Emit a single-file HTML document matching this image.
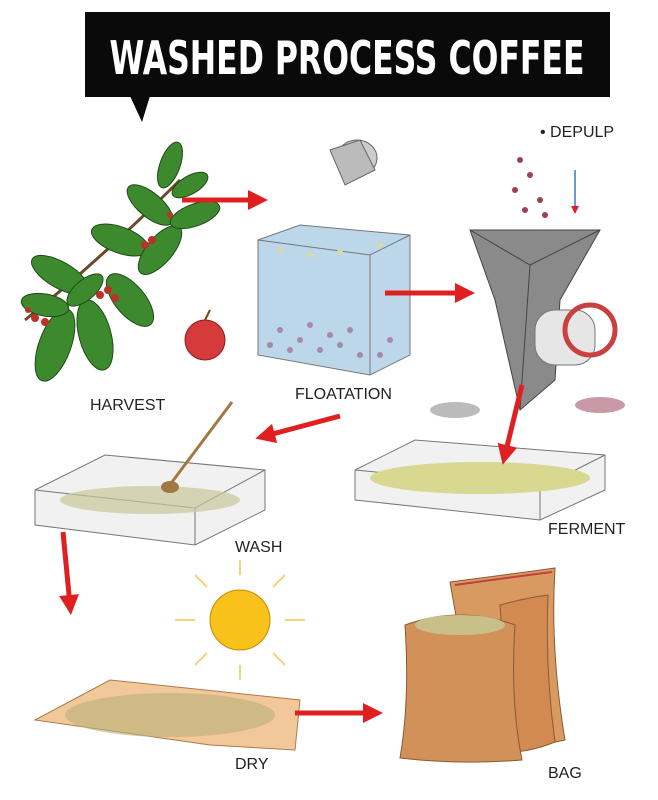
<!DOCTYPE html>
<html><head><style>
body{margin:0;background:#fff;}
svg{display:block}
text{font-family:"Liberation Sans",sans-serif;fill:#222}
</style></head><body>
<svg width="658" height="800" viewBox="0 0 658 800">
<defs>
<marker id="ah" markerWidth="4" markerHeight="4" refX="2" refY="2" orient="auto"><path d="M0,0 L4,2 L0,4z" fill="#e02020"/></marker>
</defs>
<rect x="85" y="12" width="525" height="85" fill="#0a0a0a"/>
<path d="M130,96 L150,96 L142,122z" fill="#0a0a0a"/>
<text x="347" y="74" text-anchor="middle" style="font-weight:bold;font-size:46px;fill:#fff;font-family:'DejaVu Sans Condensed','Liberation Sans Narrow',sans-serif" textLength="475" lengthAdjust="spacingAndGlyphs">WASHED PROCESS COFFEE</text>
<!-- harvest -->
<path d="M25,320 Q100,260 180,180" stroke="#6b4a2a" stroke-width="3" fill="none"/>
<g fill="#3d8a2e" stroke="#1f4a18" stroke-width="1">
<ellipse cx="55" cy="345" rx="16" ry="38" transform="rotate(20 55 345)"/>
<ellipse cx="95" cy="335" rx="16" ry="36" transform="rotate(-15 95 335)"/>
<ellipse cx="130" cy="300" rx="15" ry="32" transform="rotate(-40 130 300)"/>
<ellipse cx="60" cy="275" rx="13" ry="32" transform="rotate(-60 60 275)"/>
<ellipse cx="120" cy="240" rx="13" ry="30" transform="rotate(-70 120 240)"/>
<ellipse cx="160" cy="250" rx="13" ry="30" transform="rotate(40 160 250)"/>
<ellipse cx="150" cy="205" rx="12" ry="28" transform="rotate(-50 150 205)"/>
<ellipse cx="195" cy="215" rx="11" ry="26" transform="rotate(70 195 215)"/>
<ellipse cx="170" cy="165" rx="10" ry="24" transform="rotate(20 170 165)"/>
<ellipse cx="45" cy="305" rx="11" ry="24" transform="rotate(-80 45 305)"/>
<ellipse cx="190" cy="185" rx="9" ry="20" transform="rotate(60 190 185)"/>
<ellipse cx="85" cy="290" rx="10" ry="22" transform="rotate(50 85 290)"/>
</g>
<g fill="#c0302a"><circle cx="35" cy="318" r="4"/><circle cx="45" cy="322" r="4"/><circle cx="100" cy="295" r="4"/><circle cx="108" cy="290" r="4"/><circle cx="145" cy="245" r="4"/><circle cx="152" cy="240" r="4"/><circle cx="170" cy="215" r="3"/><circle cx="115" cy="298" r="4"/><circle cx="28" cy="310" r="3"/></g>
<circle cx="205" cy="340" r="20" fill="#d63a3a" stroke="#8a1e1e"/>
<path d="M205,320 L210,310" stroke="#6b4a2a" stroke-width="2"/>
<text x="90" y="410" font-size="16">HARVEST</text>
<!-- floatation -->
<ellipse cx="357" cy="158" rx="20" ry="18" fill="#ccc" stroke="#666"/>
<path d="M330,150 L360,140 L375,170 L345,185z" fill="#bbb" stroke="#666"/>
<path d="M258,240 L300,225 L410,235 L410,355 L370,375 L258,355z" fill="#bcd6ea" stroke="#777"/>
<path d="M258,240 L370,255 L410,235 M370,255 L370,375" stroke="#777" fill="none"/>
<g fill="#9a6a8a" opacity=".7"><circle cx="300" cy="340" r="3"/><circle cx="320" cy="350" r="3"/><circle cx="340" cy="345" r="3"/><circle cx="360" cy="355" r="3"/><circle cx="280" cy="330" r="3"/><circle cx="390" cy="340" r="3"/><circle cx="310" cy="325" r="3"/><circle cx="350" cy="330" r="3"/><circle cx="270" cy="345" r="3"/><circle cx="330" cy="335" r="3"/><circle cx="380" cy="355" r="3"/><circle cx="290" cy="350" r="3"/></g>
<g fill="#d8d8a8"><circle cx="280" cy="250" r="3"/><circle cx="310" cy="255" r="3"/><circle cx="340" cy="252" r="3"/><circle cx="380" cy="245" r="3"/></g>
<text x="295" y="399" font-size="16">FLOATATION</text>
<!-- depulp -->
<path d="M470,230 L600,230 L560,300 L555,380 L520,410 L495,300z" fill="#8a8a8a" stroke="#444"/>
<path d="M470,230 L530,265 L600,230 M530,265 L520,410" stroke="#444" fill="none"/>
<rect x="535" y="310" width="60" height="55" rx="20" fill="#e6e6e6" stroke="#777"/>
<circle cx="590" cy="330" r="25" fill="none" stroke="#c84040" stroke-width="5"/>
<g fill="#a04050"><circle cx="520" cy="160" r="3"/><circle cx="530" cy="175" r="3"/><circle cx="515" cy="190" r="3"/><circle cx="540" cy="200" r="3"/><circle cx="545" cy="215" r="3"/><circle cx="525" cy="210" r="3"/></g>
<path d="M575,170 L575,210" stroke="#6a9ad0" stroke-width="2" marker-end="url(#ah)"/>
<g fill="#bbb"><ellipse cx="455" cy="410" rx="25" ry="8"/><ellipse cx="600" cy="405" rx="25" ry="8" fill="#c89aa8"/></g>
<text x="540" y="137" font-size="16">• DEPULP</text>
<!-- wash -->
<path d="M35,490 L105,455 L265,470 L265,510 L195,545 L35,525z" fill="#f1f1f1" stroke="#777"/>
<path d="M35,490 L195,508 L265,470 M195,508 L195,545" stroke="#777" fill="none"/>
<ellipse cx="150" cy="500" rx="90" ry="14" fill="#c7c89a" opacity=".7"/>
<path d="M232,402 L172,482" stroke="#a07840" stroke-width="3"/>
<ellipse cx="170" cy="487" rx="9" ry="6" fill="#a07840"/>
<text x="235" y="552" font-size="16">WASH</text>
<!-- ferment -->
<path d="M355,470 L415,440 L605,455 L605,490 L540,520 L355,500z" fill="#f1f1f1" stroke="#777"/>
<path d="M355,470 L540,488 L605,455 M540,488 L540,520" stroke="#777" fill="none"/>
<ellipse cx="480" cy="478" rx="110" ry="16" fill="#d8d890"/>
<text x="548" y="534" font-size="16">FERMENT</text>
<!-- dry -->
<circle cx="240" cy="620" r="30" fill="#f7c21c" stroke="#c28a00"/>
<g stroke="#f2d77a" stroke-width="2"><path d="M240,575 L240,560 M240,665 L240,680 M195,620 L175,620 M285,620 L305,620 M207,587 L195,575 M273,587 L285,575 M207,653 L195,665 M273,653 L285,665"/></g>
<path d="M35,720 L110,680 L300,700 L295,750 L210,745z" fill="#f2c89a" stroke="#b07a4a"/>
<ellipse cx="170" cy="715" rx="105" ry="22" fill="#b8b07a" opacity=".6"/>
<text x="235" y="769" font-size="16">DRY</text>
<!-- bag -->
<path d="M450,582 Q505,575 555,568 Q550,650 565,740 Q520,750 480,752z" fill="#d99a62" stroke="#8a5a30"/>
<path d="M455,585 Q505,578 552,572" stroke="#c04040" stroke-width="2" fill="none"/>
<path d="M500,605 Q525,598 548,595 Q545,670 555,742 Q530,752 510,752z" fill="#d28a52" stroke="#8a5a30"/>
<path d="M405,625 Q460,605 515,625 Q510,700 522,760 Q460,765 400,758 Q410,700 405,625z" fill="#d3915a" stroke="#8a5a30"/>
<ellipse cx="460" cy="625" rx="45" ry="10" fill="#c8c088"/>
<text x="548" y="778" font-size="16">BAG</text>
<!-- arrows -->
<g stroke="#e02020" stroke-width="5" marker-end="url(#ah)" fill="none">
<path d="M182,200 L258,200"/>
<path d="M385,293 L465,293"/>
<path d="M340,416 L265,436"/>
<path d="M522,385 L505,455"/>
<path d="M63,532 L70,605"/>
<path d="M295,713 L373,713"/>
</g>
</svg>
</body></html>
